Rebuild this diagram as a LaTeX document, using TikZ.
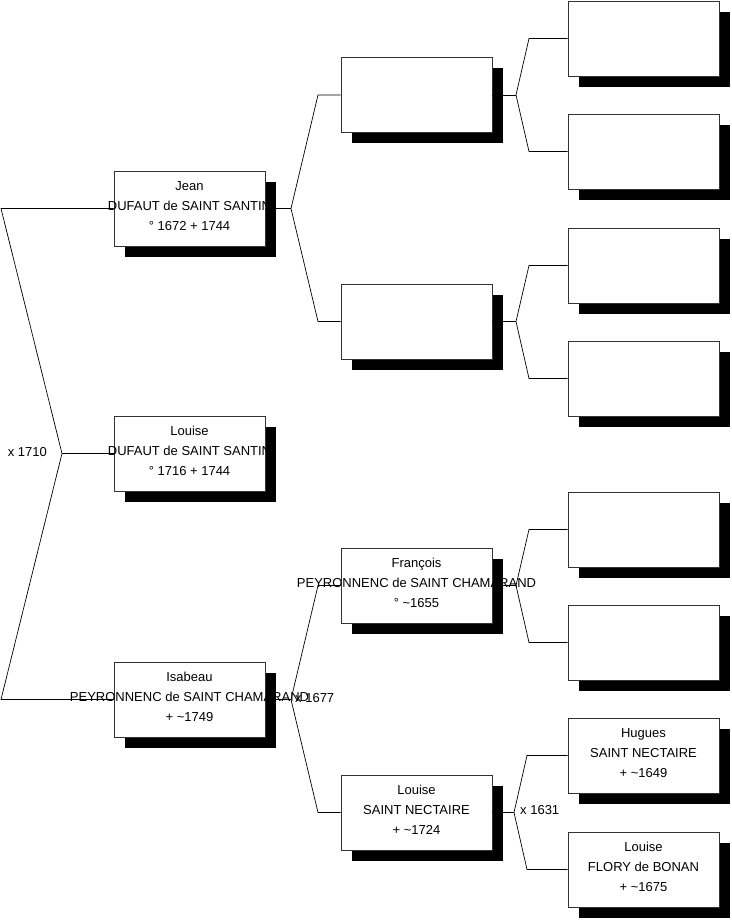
\documentclass[tikz,border=0pt]{standalone}
\usepackage{fontspec}
\setmainfont{Liberation Sans}
\usetikzlibrary{shadows}
\begin{document}
\begin{tikzpicture}[x=1pt,y=-1pt,
  pbox/.style={draw=black!80, fill=white, line width=0.7pt, minimum width=151pt, minimum height=75pt, inner sep=0pt,
    drop shadow={shadow xshift=11pt, shadow yshift=-11pt, fill=black, opacity=1}},
  ptext/.style={align=center, font=\fontsize{13}{20}\selectfont, inner sep=0pt},
  link/.style={line width=0.7pt, black},
  mlabel/.style={font=\fontsize{13}{16}\selectfont, inner sep=0pt}]
\useasboundingbox (0,0) rectangle (731,920);
% column 1
\node[pbox] (j) at (189.5,208.5) {};
\node[pbox] (l) at (189.5,453.5) {};
\node[pbox] (i) at (189.5,699.5) {};
% column 2
\node[pbox] (a) at (416.5,95) {};
\node[pbox] (b) at (416.5,321.5) {};
\node[pbox] (f) at (416.5,585.5) {};
\node[pbox] (ls) at (416.5,812.5) {};
% column 3
\node[pbox] (c1) at (643.5,38.5) {};
\node[pbox] (c2) at (643.5,151.5) {};
\node[pbox] (c3) at (643.5,265.5) {};
\node[pbox] (c4) at (643.5,378.5) {};
\node[pbox] (c5) at (643.5,529.5) {};
\node[pbox] (c6) at (643.5,642.5) {};
\node[pbox] (h) at (643.5,755.5) {};
\node[pbox] (lf) at (643.5,869.5) {};
% connectors
\coordinate (r) at (62,453.5);
\coordinate (rt) at (1,208.5);
\coordinate (rb) at (1,699.5);
\draw[link] (j.west) -- (rt) -- (r) -- (rb) -- (i.west);
\draw[link] (r) -- (l.west);
\coordinate (jx) at (291,208.5);
\coordinate (ja) at (318,95);
\coordinate (jb) at (318,321.5);
\draw[link] (j.east) -- (jx);
\draw[link] (a.west) -- (ja) -- (jx) -- (jb) -- (b.west);
\coordinate (ix) at (291,699.5);
\coordinate (ia) at (318,585.5);
\coordinate (ib) at (318,812.5);
\draw[link] (i.east) -- (ix);
\draw[link] (f.west) -- (ia) -- (ix) -- (ib) -- (ls.west);
\coordinate (ax) at (516,95);
\coordinate (aa) at (529,38.5);
\coordinate (ab) at (529,151.5);
\draw[link] (a.east) -- (ax);
\draw[link] (c1.west) -- (aa) -- (ax) -- (ab) -- (c2.west);
\coordinate (bx) at (516,321.5);
\coordinate (ba) at (529,265.5);
\coordinate (bb) at (529,378.5);
\draw[link] (b.east) -- (bx);
\draw[link] (c3.west) -- (ba) -- (bx) -- (bb) -- (c4.west);
\coordinate (fx) at (516,585.5);
\coordinate (fa) at (529,529.5);
\coordinate (fb) at (529,642.5);
\draw[link] (f.east) -- (fx);
\draw[link] (c5.west) -- (fa) -- (fx) -- (fb) -- (c6.west);
\coordinate (lx) at (514,812.5);
\coordinate (la) at (527,755.5);
\coordinate (lb) at (527,869.5);
\draw[link] (ls.east) -- (lx);
\draw[link] (h.west) -- (la) -- (lx) -- (lb) -- (lf.west);
% texts
\node[ptext] (jt) at (189.5,206) {Jean\\DUFAUT de SAINT SANTIN\\° 1672 + 1744};
\node[ptext] (lt) at (189.5,451) {Louise\\DUFAUT de SAINT SANTIN\\° 1716 + 1744};
\node[ptext] (it) at (189.5,697) {Isabeau\\PEYRONNENC de SAINT CHAMARAND\\+ \char`\~1749};
\node[ptext] (ft) at (416.5,583) {François\\PEYRONNENC de SAINT CHAMARAND\\° \char`\~1655};
\node[ptext] (lst) at (416.5,810) {Louise\\SAINT NECTAIRE\\+ \char`\~1724};
\node[ptext] (ht) at (643.5,753) {Hugues\\SAINT NECTAIRE\\+ \char`\~1649};
\node[ptext] (lft) at (643.5,867) {Louise\\FLORY de BONAN\\+ \char`\~1675};
% marriage labels
\node[mlabel, anchor=east] (m1) at (47,452) {x 1710};
\node[mlabel, anchor=west] (m2) at (295,698) {x 1677};
\node[mlabel, anchor=west] (m3) at (520,810) {x 1631};
\end{tikzpicture}
\end{document}
